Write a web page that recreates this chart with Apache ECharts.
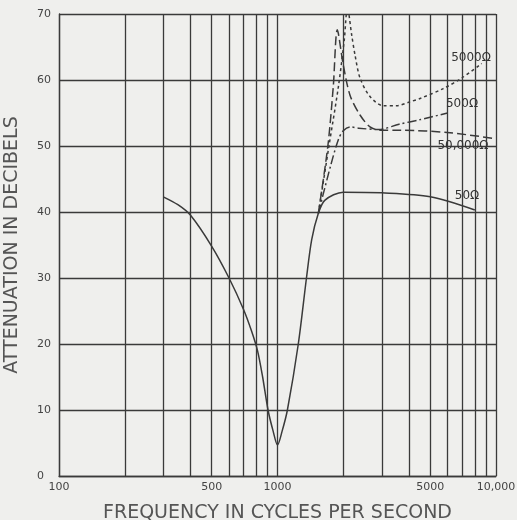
<!DOCTYPE html>
<html>
<head>
<meta charset="utf-8">
<script src="https://cdn.jsdelivr.net/npm/echarts@6/dist/echarts.min.js"></script>
<style>
html, body { margin: 0; padding: 0; background: #efefed; }
#container { width: 517px; height: 520px; }
</style>
</head>
<body>
<div id="container"></div>
<script>
// grid lines of the log paper and the labelled frequencies
var freqGrid = [100, 200, 300, 400, 500, 600, 700, 800, 900, 1000,
                2000, 3000, 4000, 5000, 6000, 7000, 8000, 9000, 10000];
var freqLabels = [100, 500, 1000, 5000, 10000];

// attenuation curves, [frequency, dB]
var ohm50 = [[300, 42.3], [350, 41.1], [400, 39.5], [500, 34.8], [600, 30], [700, 25.2],
             [760, 22], [810, 19], [855, 15], [905, 10], [955, 6.8], [1000, 4.7], [1050, 6.8], [1110, 10],
             [1245, 20], [1357, 30], [1434, 35.8], [1538, 39.8], [1650, 41.8], [2000, 43],
             [3000, 42.9], [5000, 42.3], [8000, 40.3]];
var ohm500 = [[1538, 39.8], [1750, 47], [1900, 51], [2000, 52.3], [2150, 52.9], [2350, 52.7],
              [2900, 52.5], [3600, 53.3], [4500, 54], [6000, 55]];
var ohm5000 = [[1538, 39.8], [1720, 50], [1900, 59], [2020, 66], [2090, 71], [2186, 66.8],
               [2263, 63.8], [2386, 60.3], [2650, 57.5], [3050, 56.1], [3510, 56.1], [4040, 56.7],
               [4490, 57.2], [5740, 58.7], [6970, 60.3], [8600, 62.5]];
var ohm50000 = [[1538, 39.8], [1700, 50], [1800, 59], [1878, 67.6], [2000, 62.3], [2147, 57.7],
                [2386, 54.7], [2650, 52.9], [2945, 52.4], [3636, 52.4], [6160, 52], [10000, 51.1]];

// curve captions: [text, frequency, dB]
var captions = [['5000Ω', 7690, 63.3], ['500Ω', 6990, 56.4], ['50,000Ω', 7060, 50.0], ['50Ω', 7370, 42.4]];

var ink = '#3a3a3a';
var font = 'DejaVu Sans';

function caption(i) {
    var c = captions[i];
    return {
        symbol: 'circle',
        symbolSize: 0,
        silent: true,
        label: {
            show: true, position: 'inside', formatter: c[0],
            fontFamily: font, fontSize: 12, color: '#333'
        },
        data: [{ coord: [c[1], c[2]] }]
    };
}

function curve(name, data, dash, cap) {
    return {
        name: name,
        type: 'line',
        data: data,
        showSymbol: false,
        smooth: 0.3,
        clip: true,
        lineStyle: { color: ink, width: 1.5, type: dash },
        markPoint: caption(cap)
    };
}

var myChart = echarts.init(document.getElementById('container'));
var option = {
    backgroundColor: '#efefed',
    animation: false,
    grid: { left: 59, right: 21, top: 14, bottom: 44, outerBoundsMode: 'none' },
    xAxis: {
        type: 'log',
        logBase: 10,
        min: 100,
        max: 10000,
        name: 'FREQUENCY IN CYCLES PER SECOND',
        nameLocation: 'middle',
        nameGap: 28,
        nameTextStyle: { fontFamily: font, fontSize: 19, color: '#555' },
        axisLine: { show: true, lineStyle: { color: ink, width: 1.3 } },
        axisTick: { show: false, customValues: freqGrid },
        axisLabel: {
            customValues: freqLabels,
            margin: 6,
            fontFamily: font, fontSize: 11, color: '#444',
            formatter: function (v) { return v == 10000 ? '10,000' : String(v); }
        },
        splitLine: { show: true, lineStyle: { color: ink, width: 1.3 } }
    },
    yAxis: {
        type: 'value',
        min: 0,
        max: 70,
        interval: 10,
        name: 'ATTENUATION IN DECIBELS',
        nameLocation: 'middle',
        nameGap: 37,
        nameTextStyle: { fontFamily: font, fontSize: 19, color: '#555' },
        axisLine: { show: true, lineStyle: { color: ink, width: 1.3 } },
        axisTick: { show: false },
        axisLabel: { align: 'left', margin: 22, fontFamily: font, fontSize: 11, color: '#444' },
        splitLine: { show: true, lineStyle: { color: ink, width: 1.3 } }
    },
    series: [
        curve('50Ω', ohm50, 'solid', 3),
        curve('500Ω', ohm500, [9, 3, 2, 3], 1),
        curve('5000Ω', ohm5000, [3, 3], 0),
        curve('50,000Ω', ohm50000, [9, 4], 2)
    ]
};

myChart.setOption(option);
</script>
</body>
</html>
